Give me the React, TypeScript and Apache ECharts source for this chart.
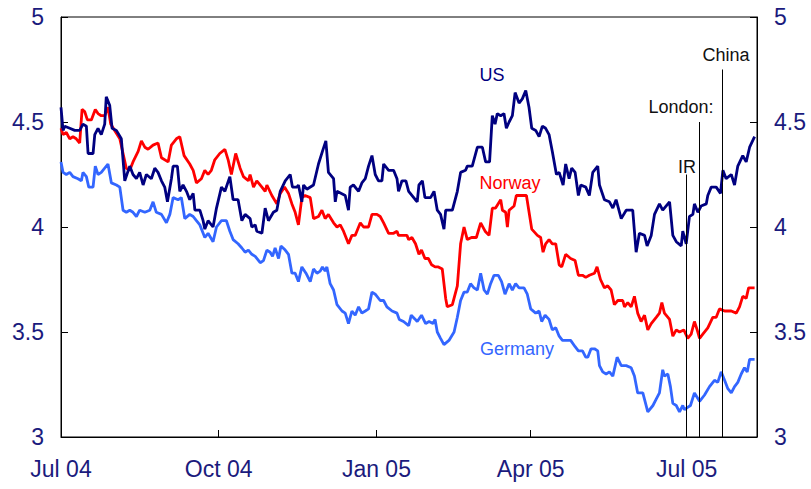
import React, { useEffect, useRef } from "react";
import * as echarts from "echarts";

// x values: days since 1 Jul 2004; y values: 10-year government bond yield, %
const usData: [number, number][] = [
  [0, 4.57], [1.2, 4.46], [2.2, 4.48], [5.1, 4.47], [8.0, 4.46], [10.9, 4.46], [12.8, 4.49], [14.8, 4.48],
  [15.8, 4.35], [18.7, 4.35], [19.7, 4.44], [21.6, 4.47], [23.5, 4.44], [25.5, 4.49], [26.4, 4.62], [28.4, 4.58],
  [29.8, 4.47], [32.3, 4.46], [35.2, 4.42], [37.2, 4.22], [40.1, 4.29], [42.0, 4.25], [44.0, 4.23], [45.9, 4.26],
  [47.9, 4.20], [49.8, 4.25], [52.7, 4.23], [54.7, 4.28], [56.6, 4.26], [58.6, 4.22], [60.5, 4.19], [62.1, 4.12],
  [64.4, 4.23], [65.4, 4.29], [67.9, 4.29], [69.3, 4.17], [71.2, 4.20], [73.2, 4.17], [75.1, 4.13], [77.1, 4.16],
  [78.1, 4.08], [81.0, 4.08], [82.9, 4.03], [83.9, 3.99], [85.8, 4.03], [88.7, 4.00], [90.7, 4.09], [93.6, 4.19],
  [95.6, 4.17], [98.5, 4.24], [100.4, 4.13], [103.3, 4.13], [105.5, 4.03], [107.4, 4.06], [110.3, 4.04], [111.3, 4.00],
  [113.3, 4.01], [114.2, 3.98], [117.2, 3.97], [119.1, 4.09], [121.0, 4.03], [123.9, 4.07], [125.9, 4.08], [127.9, 4.17],
  [130.8, 4.22], [133.7, 4.25], [135.0, 4.19], [137.6, 4.19], [138.5, 4.20], [140.5, 4.12], [141.5, 4.20], [143.4, 4.18],
  [147.3, 4.20], [150.2, 4.30], [152.5, 4.36], [154.5, 4.41], [156.0, 4.26], [159.0, 4.23], [160.0, 4.12], [161.0, 4.17],
  [165.8, 4.15], [167.7, 4.08], [168.7, 4.19], [170.6, 4.20], [173.6, 4.17], [175.5, 4.21], [177.5, 4.23], [179.4, 4.29],
  [181.4, 4.34], [183.3, 4.25], [185.2, 4.22], [187.2, 4.22], [188.2, 4.30], [191.1, 4.27], [194.0, 4.27], [196.0, 4.23],
  [196.9, 4.17], [198.9, 4.22], [201.2, 4.22], [202.8, 4.17], [206.7, 4.13], [207.8, 4.12], [208.8, 4.20], [210.8, 4.22],
  [212.3, 4.14], [215.6, 4.14], [217.6, 4.17], [219.5, 4.08], [221.4, 4.06], [223.4, 3.99], [224.4, 4.08], [228.3, 4.08],
  [231.2, 4.17], [233.1, 4.26], [236.0, 4.27], [237.0, 4.29], [239.9, 4.29], [242.9, 4.38], [245.8, 4.38], [247.7, 4.31],
  [250.0, 4.31], [251.6, 4.53], [253.2, 4.49], [254.5, 4.54], [256.5, 4.53], [258.4, 4.54], [259.8, 4.47], [261.4, 4.50],
  [263.3, 4.53], [264.9, 4.64], [267.2, 4.59], [269.1, 4.61], [271.1, 4.65], [273.0, 4.57], [274.6, 4.47], [276.9, 4.46],
  [278.9, 4.43], [280.8, 4.48], [282.7, 4.47], [284.7, 4.44], [286.6, 4.36], [289.0, 4.25], [290.6, 4.26], [292.9, 4.20],
  [294.4, 4.30], [296.4, 4.23], [297.9, 4.28], [299.9, 4.26], [301.8, 4.15], [303.2, 4.20], [306.1, 4.19], [308.2, 4.15],
  [310.2, 4.26], [313.1, 4.29], [314.1, 4.20], [317.0, 4.13], [319.9, 4.12], [321.9, 4.09], [323.8, 4.13], [326.8, 4.04],
  [329.7, 4.08], [333.5, 4.08], [335.5, 3.88], [337.4, 3.97], [340.4, 3.96], [341.9, 3.91], [344.3, 3.96], [346.2, 4.06],
  [349.1, 4.11], [351.0, 4.08], [355.0, 4.12], [356.9, 3.96], [358.9, 3.93], [361.8, 3.91], [362.7, 3.98], [364.7, 3.92],
  [366.6, 4.05], [368.6, 4.06], [369.5, 4.11], [371.5, 4.07], [373.4, 4.10], [376.4, 4.11], [377.3, 4.15], [379.3, 4.19],
  [382.2, 4.19], [384.7, 4.16], [386.1, 4.27], [388.0, 4.23], [391.0, 4.25], [392.9, 4.20], [394.8, 4.29], [397.7, 4.34],
  [399.7, 4.31], [401.7, 4.38], [404.6, 4.43],
];

const norwayData: [number, number][] = [
  [0, 4.47], [1.2, 4.44], [3.1, 4.45], [5.1, 4.42], [7.0, 4.43], [8.9, 4.42], [10.9, 4.40], [12.3, 4.56],
  [13.8, 4.55], [15.4, 4.51], [17.7, 4.51], [20.0, 4.56], [21.6, 4.54], [23.5, 4.53], [25.5, 4.53], [27.4, 4.57],
  [29.0, 4.49], [31.3, 4.46], [34.3, 4.42], [36.2, 4.35], [38.1, 4.28], [40.1, 4.27], [42.0, 4.31], [45.0, 4.36],
  [46.9, 4.41], [48.9, 4.38], [50.8, 4.37], [53.7, 4.39], [56.6, 4.40], [58.6, 4.33], [62.5, 4.31], [64.4, 4.39],
  [67.3, 4.42], [69.3, 4.43], [71.8, 4.34], [75.1, 4.30], [77.1, 4.27], [79.0, 4.21], [81.9, 4.23], [83.9, 4.27],
  [85.8, 4.25], [87.7, 4.27], [89.7, 4.32], [92.6, 4.35], [95.6, 4.37], [97.5, 4.32], [99.4, 4.25], [101.9, 4.35],
  [104.5, 4.28], [106.4, 4.24], [109.3, 4.22], [110.3, 4.25], [112.3, 4.19], [114.2, 4.22], [117.2, 4.19], [119.1, 4.17],
  [120.1, 4.20], [123.0, 4.15], [125.9, 4.11], [127.9, 4.16], [130.4, 4.19], [132.7, 4.16], [134.7, 4.11], [136.6, 4.07],
  [138.5, 4.01], [140.5, 4.14], [142.4, 4.15], [145.4, 4.14], [147.3, 4.04], [150.2, 4.05], [152.2, 4.08], [154.1, 4.04],
  [156.0, 4.06], [159.0, 4.02], [161.0, 4.00], [162.9, 4.01], [164.8, 3.98], [167.7, 3.92], [169.7, 3.96], [171.6, 3.96],
  [172.6, 3.98], [174.6, 4.02], [176.5, 4.00], [179.4, 4.00], [181.4, 4.06], [184.3, 4.06], [186.2, 4.05], [188.2, 4.02],
  [191.1, 3.97], [194.0, 3.97], [196.0, 3.98], [196.9, 3.96], [199.8, 3.96], [201.8, 3.96], [202.8, 3.94], [204.7, 3.95],
  [206.8, 3.92], [208.8, 3.87], [210.3, 3.89], [212.3, 3.85], [214.3, 3.85], [216.2, 3.82], [218.2, 3.81], [220.1, 3.81],
  [222.4, 3.80], [224.4, 3.66], [225.3, 3.62], [228.3, 3.63], [231.2, 3.72], [233.1, 3.92], [235.1, 4.00], [237.0, 3.94],
  [239.5, 3.95], [242.3, 3.95], [244.8, 4.02], [247.4, 3.98], [249.7, 3.96], [251.6, 4.09], [253.5, 4.09], [256.5, 4.13],
  [257.5, 4.08], [259.4, 4.07], [260.4, 4.00], [261.4, 4.08], [264.3, 4.10], [265.6, 4.15], [268.1, 4.15], [271.5, 4.15],
  [274.6, 3.99], [277.9, 3.96], [279.8, 3.95], [281.2, 3.88], [282.7, 3.92], [284.7, 3.94], [286.6, 3.92], [288.6, 3.92],
  [290.6, 3.82], [292.1, 3.81], [294.4, 3.87], [297.3, 3.85], [299.9, 3.84], [301.8, 3.77], [304.2, 3.77], [306.1, 3.76],
  [308.2, 3.77], [311.2, 3.78], [312.7, 3.81], [314.7, 3.75], [317.0, 3.71], [318.9, 3.72], [320.9, 3.70], [322.8, 3.63],
  [324.8, 3.65], [327.7, 3.65], [328.7, 3.62], [330.6, 3.64], [332.6, 3.62], [334.5, 3.67], [336.4, 3.59], [338.4, 3.55],
  [340.4, 3.58], [342.3, 3.51], [344.3, 3.54], [347.2, 3.57], [349.1, 3.59], [350.5, 3.64], [352.0, 3.59], [355.0, 3.56],
  [356.9, 3.48], [358.9, 3.51], [360.8, 3.50], [363.3, 3.51], [365.6, 3.47], [367.6, 3.49], [369.5, 3.55], [371.1, 3.51],
  [372.5, 3.47], [374.4, 3.49], [377.3, 3.52], [380.2, 3.57], [382.2, 3.57], [384.1, 3.61], [387.1, 3.60], [391.0, 3.60],
  [393.9, 3.59], [395.8, 3.62], [397.7, 3.67], [399.7, 3.66], [401.1, 3.71], [404.6, 3.71],
];

const germanyData: [number, number][] = [
  [0, 4.31], [1.2, 4.26], [3.1, 4.25], [5.1, 4.26], [7.0, 4.24], [9.9, 4.23], [11.9, 4.22], [12.8, 4.26],
  [14.8, 4.24], [16.2, 4.19], [18.7, 4.19], [20.0, 4.29], [21.6, 4.25], [23.5, 4.26], [27.4, 4.30], [29.4, 4.21],
  [32.3, 4.20], [34.3, 4.19], [36.2, 4.08], [38.1, 4.07], [40.1, 4.08], [42.0, 4.07], [44.0, 4.05], [45.9, 4.08],
  [48.9, 4.07], [51.8, 4.08], [53.7, 4.12], [55.6, 4.07], [58.6, 4.06], [61.5, 4.02], [63.5, 4.06], [65.4, 4.14],
  [68.3, 4.13], [70.2, 4.14], [72.2, 4.04], [75.1, 4.06], [77.1, 4.05], [79.0, 4.03], [81.0, 4.01], [83.9, 3.95],
  [85.8, 3.97], [88.7, 3.93], [90.7, 4.00], [93.6, 4.03], [96.5, 4.03], [98.5, 3.98], [100.4, 3.94], [103.3, 3.92],
  [105.5, 3.90], [107.4, 3.88], [109.3, 3.89], [111.3, 3.87], [113.3, 3.86], [116.2, 3.83], [118.1, 3.84], [120.1, 3.89],
  [122.0, 3.88], [123.4, 3.86], [124.9, 3.90], [126.9, 3.85], [128.3, 3.91], [130.8, 3.89], [132.7, 3.87], [134.7, 3.78],
  [136.6, 3.78], [138.5, 3.74], [140.5, 3.81], [142.9, 3.78], [145.4, 3.74], [147.3, 3.80], [149.3, 3.78], [151.2, 3.79],
  [152.5, 3.81], [154.1, 3.79], [155.1, 3.81], [157.0, 3.73], [159.0, 3.70], [161.0, 3.63], [163.9, 3.60], [165.8, 3.59],
  [167.7, 3.54], [169.7, 3.60], [171.6, 3.58], [173.6, 3.62], [175.5, 3.59], [177.5, 3.60], [179.4, 3.61], [181.4, 3.69],
  [183.3, 3.68], [186.2, 3.65], [188.2, 3.65], [190.1, 3.62], [193.1, 3.60], [196.0, 3.59], [197.3, 3.56], [199.8, 3.55],
  [202.8, 3.53], [204.3, 3.58], [206.7, 3.56], [207.8, 3.55], [210.3, 3.58], [212.7, 3.54], [214.7, 3.55], [217.0, 3.54],
  [218.2, 3.56], [219.5, 3.50], [221.4, 3.47], [223.4, 3.44], [226.3, 3.46], [229.3, 3.50], [231.2, 3.57], [233.1, 3.65],
  [235.1, 3.69], [237.0, 3.69], [238.9, 3.73], [240.9, 3.71], [242.9, 3.70], [244.8, 3.78], [246.8, 3.70], [248.7, 3.68],
  [250.6, 3.73], [252.6, 3.77], [255.1, 3.77], [257.0, 3.74], [259.0, 3.68], [261.4, 3.73], [263.3, 3.70], [265.2, 3.73],
  [267.2, 3.71], [270.1, 3.71], [272.0, 3.68], [274.0, 3.61], [276.9, 3.59], [278.9, 3.60], [280.4, 3.55], [282.4, 3.58],
  [284.7, 3.56], [286.6, 3.51], [288.6, 3.52], [290.6, 3.48], [292.5, 3.46], [294.8, 3.46], [297.3, 3.46], [299.9, 3.43],
  [301.8, 3.41], [304.2, 3.41], [306.1, 3.38], [307.3, 3.38], [309.2, 3.42], [311.2, 3.42], [313.1, 3.41], [314.1, 3.34],
  [316.0, 3.31], [318.0, 3.30], [319.9, 3.31], [321.9, 3.29], [324.4, 3.38], [326.8, 3.34], [329.7, 3.34], [332.6, 3.33],
  [334.5, 3.29], [336.4, 3.21], [339.4, 3.21], [342.3, 3.12], [345.3, 3.15], [347.2, 3.18], [349.1, 3.21], [351.0, 3.32],
  [352.0, 3.29], [354.0, 3.30], [355.5, 3.24], [356.9, 3.16], [358.9, 3.15], [360.8, 3.12], [362.7, 3.15], [363.7, 3.13],
  [365.3, 3.14], [367.2, 3.15], [369.5, 3.21], [372.5, 3.17], [375.4, 3.20], [378.3, 3.24], [381.2, 3.27], [383.1, 3.26],
  [385.1, 3.31], [387.1, 3.27], [389.0, 3.23], [391.0, 3.21], [392.9, 3.24], [394.8, 3.26], [396.8, 3.30], [398.7, 3.33],
  [400.3, 3.31], [401.7, 3.37], [404.6, 3.37],
];

// quarter starts (days since 1 Jul 2004) and their labels
const tickDays = [0, 92, 184, 274, 365];
const tickLabels = ["Jul 04", "Oct 04", "Jan 05", "Apr 05", "Jul 05"];

// events: name, day, top of the marker line (yield units)
const eventNames = ["IR", "London:", "China"];
const eventDays = [364.7, 372.3, 386];
const eventTops = [4.25, 4.5, 4.75];

const FONT = "'Liberation Sans', Arial, Helvetica, sans-serif";
const LABEL_BLUE = "#1b1b7d";

export default function App() {
  const ref = useRef<HTMLDivElement>(null);

  useEffect(() => {
    if (!ref.current) return;
    const chart = echarts.init(ref.current, null, { renderer: "svg" });

    const yAxisBase = {
      type: "value" as const,
      min: 3,
      max: 5,
      interval: 0.5,
      axisLine: { show: true, lineStyle: { color: "#000", width: 1 } },
      axisTick: { show: true, inside: true, length: 7, lineStyle: { color: "#000" } },
      splitLine: { show: false },
      axisLabel: {
        color: LABEL_BLUE,
        fontSize: 23,
        fontFamily: FONT,
        margin: 17,
        formatter: (v: number) => String(v),
      },
    };

    chart.setOption({
      animation: false,
      backgroundColor: "#fff",
      grid: {
        left: 61,
        right: 54,
        top: 17,
        bottom: 52,
        show: true,
        borderColor: "#000",
        borderWidth: 1,
        backgroundColor: "transparent",
      },
      xAxis: {
        type: "value",
        min: 0,
        max: 406,
        axisLine: { show: true, lineStyle: { color: "#000", width: 1 } },
        axisTick: {
          show: true,
          inside: true,
          length: 7,
          lineStyle: { color: "#000" },
          customValues: tickDays,
        },
        splitLine: { show: false },
        axisLabel: {
          color: LABEL_BLUE,
          fontSize: 23,
          fontFamily: FONT,
          margin: 20,
          customValues: tickDays,
          formatter: (v: number) => {
            const i = tickDays.indexOf(Math.round(v));
            return i >= 0 ? tickLabels[i] : "";
          },
        },
      },
      yAxis: [
        { ...yAxisBase, position: "left" },
        { ...yAxisBase, position: "right" },
      ],
      series: [
        {
          name: "Germany",
          type: "line",
          data: germanyData,
          showSymbol: false,
          lineStyle: { color: "#3366ff", width: 2.8 },
          itemStyle: { color: "#3366ff" },
          z: 2,
        },
        {
          name: "Norway",
          type: "line",
          data: norwayData,
          showSymbol: false,
          lineStyle: { color: "#ff0000", width: 2.8 },
          itemStyle: { color: "#ff0000" },
          z: 3,
        },
        {
          name: "US",
          type: "line",
          data: usData,
          showSymbol: false,
          lineStyle: { color: "#000080", width: 2.8 },
          itemStyle: { color: "#000080" },
          z: 4,
          markLine: {
            silent: true,
            symbol: ["none", "none"],
            label: { show: false },
            lineStyle: { color: "#000", width: 1, type: "solid" },
            data: eventDays.map((d, i) => [
              { coord: [d, 3], name: eventNames[i] },
              { coord: [d, eventTops[i]] },
            ]),
          },
        },
      ],
      graphic: [
        { type: "text", x: 492, y: 75, style: { text: "US", fill: "#000080", font: `18px ${FONT}`, align: "center", verticalAlign: "middle" } },
        { type: "text", x: 510, y: 183, style: { text: "Norway", fill: "#ff0000", font: `18px ${FONT}`, align: "center", verticalAlign: "middle" } },
        { type: "text", x: 517, y: 349, style: { text: "Germany", fill: "#3366ff", font: `18px ${FONT}`, align: "center", verticalAlign: "middle" } },
        { type: "text", x: 687, y: 167, style: { text: eventNames[0], fill: "#111", font: `18px ${FONT}`, align: "center", verticalAlign: "middle" } },
        { type: "text", x: 681, y: 107, style: { text: eventNames[1], fill: "#111", font: `18px ${FONT}`, align: "center", verticalAlign: "middle" } },
        { type: "text", x: 726, y: 55, style: { text: eventNames[2], fill: "#111", font: `18px ${FONT}`, align: "center", verticalAlign: "middle" } },
      ],
    });

    return () => chart.dispose();
  }, []);

  return (
    <div
      ref={ref}
      style={{ position: "absolute", left: 0, top: 0, width: 811, height: 489 }}
    />
  );
}
